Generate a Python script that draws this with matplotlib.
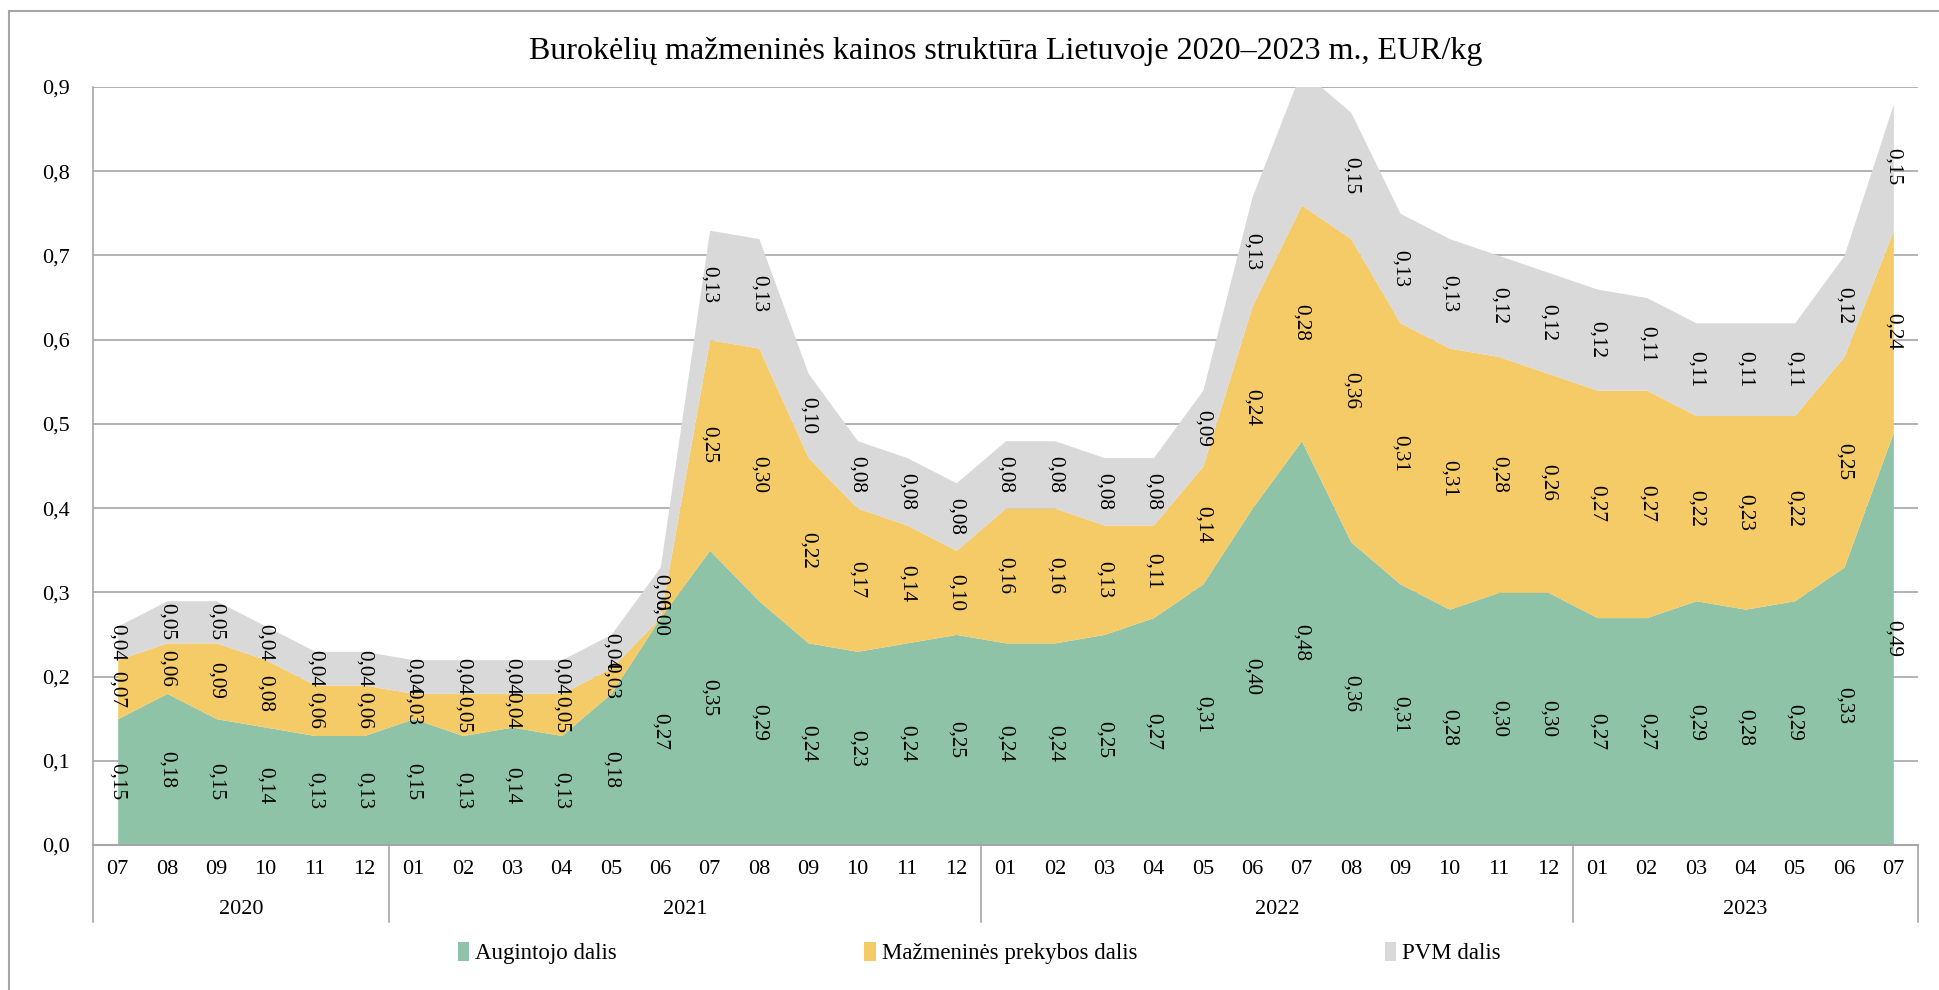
import matplotlib.pyplot as plt
import numpy as np
from matplotlib.patches import Rectangle

plt.rcParams.update({
    'font.family': 'Liberation Serif',
    'axes.edgecolor': '#A6A6A6',
    'figure.facecolor': 'white',
})

# Duomenys
years = ['2020', '2021', '2022', '2023']
year_months = [
    ['07', '08', '09', '10', '11', '12'],
    ['01', '02', '03', '04', '05', '06', '07', '08', '09', '10', '11', '12'],
    ['01', '02', '03', '04', '05', '06', '07', '08', '09', '10', '11', '12'],
    ['01', '02', '03', '04', '05', '06', '07'],
]
augintojo = [0.15, 0.18, 0.15, 0.14, 0.13, 0.13,
             0.15, 0.13, 0.14, 0.13, 0.18, 0.27, 0.35, 0.29, 0.24, 0.23, 0.24, 0.25,
             0.24, 0.24, 0.25, 0.27, 0.31, 0.40, 0.48, 0.36, 0.31, 0.28, 0.30, 0.30,
             0.27, 0.27, 0.29, 0.28, 0.29, 0.33, 0.49]
mazmenines = [0.07, 0.06, 0.09, 0.08, 0.06, 0.06,
              0.03, 0.05, 0.04, 0.05, 0.03, 0.00, 0.25, 0.30, 0.22, 0.17, 0.14, 0.10,
              0.16, 0.16, 0.13, 0.11, 0.14, 0.24, 0.28, 0.36, 0.31, 0.31, 0.28, 0.26,
              0.27, 0.27, 0.22, 0.23, 0.22, 0.25, 0.24]
pvm = [0.04, 0.05, 0.05, 0.04, 0.04, 0.04,
       0.04, 0.04, 0.04, 0.04, 0.04, 0.06, 0.13, 0.13, 0.10, 0.08, 0.08, 0.08,
       0.08, 0.08, 0.08, 0.08, 0.09, 0.13, 0.16, 0.15, 0.13, 0.13, 0.12, 0.12,
       0.12, 0.11, 0.11, 0.11, 0.11, 0.12, 0.15]

series = [augintojo, mazmenines, pvm]
names = ['Augintojo dalis', 'Mažmeninės prekybos dalis', 'PVM dalis']
colors = ['#8EC3A7', '#F5CB67', '#D9D9D9']
ymax = 0.9

months = [m for ms in year_months for m in ms]
x = np.arange(len(months))

fig = plt.figure(figsize=(19.39, 9.90), dpi=100)
ax = fig.add_axes([93 / 1939, 1 - 845 / 990, 1825 / 1939, 758 / 990])

# Sukrauti plotai
base = np.zeros(len(x))
for vals, name, color in zip(series, names, colors):
    vals = np.array(vals)
    ax.fill_between(x, base, base + vals, color=color, linewidth=0, label=name, zorder=2)
    for i, v in enumerate(vals):
        yc = base[i] + v / 2
        if base[i] + v > ymax:
            continue  # taškas už ašies ribų - be etiketės
        ax.text(x[i], yc, f'{v:.2f}'.replace('.', ','), rotation=270,
                ha='center', va='center', fontsize=15.3, zorder=4)
    base = base + vals

ax.set_xlim(-0.5, len(x) - 0.5)
ax.set_ylim(0, ymax)
ticks = np.arange(0, 0.91, 0.1)
ax.set_yticks(ticks)
ax.set_yticklabels([f'{v:.1f}'.replace('.', ',') for v in ticks], fontsize=16)
ax.tick_params(axis='y', length=0, pad=17)
ax.yaxis.grid(True, color='#A6A6A6', linewidth=1.2, zorder=1)
ax.set_axisbelow(True)
for s in ['top', 'right']:
    ax.spines[s].set_visible(False)
ax.spines['left'].set_linewidth(1.2)
ax.spines['bottom'].set_linewidth(1.5)
ax.spines['bottom'].set_zorder(5)

# Dviejų lygių x ašis
ax.set_xticks([])
trans = ax.get_xaxis_transform()
for i, m in enumerate(months):
    ax.text(x[i], -0.032, m, transform=trans, ha='center', va='center', fontsize=16)
start = 0
bounds = [-0.5]
for yr, ms in zip(years, year_months):
    end = start + len(ms)
    ax.text((start + end - 1) / 2, -0.085, yr, transform=trans, ha='center', va='center', fontsize=16)
    bounds.append(end - 0.5)
    start = end
for b in bounds:
    ax.plot([b, b], [0, -0.102], transform=trans, color='#A6A6A6', linewidth=1.2, clip_on=False)

ax.set_title('Burokėlių mažmeninės kainos struktūra Lietuvoje 2020–2023 m., EUR/kg',
             fontsize=23, pad=20)

fig.legend(loc='center', bbox_to_anchor=(0.505, 1 - 953 / 990), ncol=3, frameon=False,
           fontsize=16.5, handlelength=0.5, handleheight=0.9, handletextpad=0.25,
           columnspacing=10.8)

# Rėmelis
fig.patches.append(Rectangle((9 / 1939, -0.1), 1.2, 1 - 11 / 990 + 0.1, transform=fig.transFigure,
                             fill=False, edgecolor='#A6A6A6', linewidth=1.5))

plt.savefig('out.png', dpi=100, facecolor='white')
